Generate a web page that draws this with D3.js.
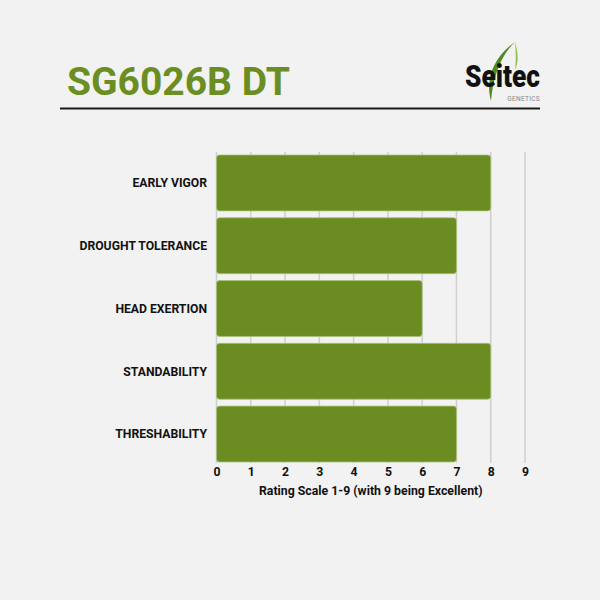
<!DOCTYPE html>
<html>
<head>
<meta charset="utf-8">
<script src="https://cdn.jsdelivr.net/npm/d3@7"></script>
<style>
  html, body { margin: 0; padding: 0; background: #f2f2f2; }
  svg { display: block; font-family: Roboto, "Noto Sans", sans-serif; }
</style>
</head>
<body>
<svg id="chart" width="600" height="600"></svg>
<script>
const categories = ["EARLY VIGOR", "DROUGHT TOLERANCE", "HEAD EXERTION", "STANDABILITY", "THRESHABILITY"];
const values = [8, 7, 6, 8, 7];
const ticks = [0, 1, 2, 3, 4, 5, 6, 7, 8, 9];
const title = "SG6026B DT";
const axisTitle = "Rating Scale 1-9 (with 9 being Excellent)";

const svg = d3.select("#chart");
svg.append("rect").attr("width", 600).attr("height", 600).attr("fill", "#f2f2f2");

// Title
svg.append("text").attr("x", 67).attr("y", 95)
  .attr("font-size", 39).attr("font-weight", 700).attr("fill", "#6b8e23")
  .text(title);

// Rule
svg.append("line").attr("x1", 60).attr("x2", 540).attr("y1", 108.5).attr("y2", 108.5)
  .attr("stroke", "#1a1a1a").attr("stroke-width", 2);

// Logo
const logo = svg.append("g");
logo.append("path")
  .attr("d", "M515,42 C500,56 493,78 491,101 C485,80 493,57 515,42 Z")
  .attr("fill", "#4f8a22");
logo.append("path")
  .attr("d", "M515,42 C519,55 518,64 515,70 C516,62 516,52 515,42 Z")
  .attr("fill", "#8fbf4a");
logo.append("text").attr("x", 465).attr("y", 87)
  .attr("font-size", 32).attr("font-weight", 900).attr("fill", "#111")
  .attr("textLength", 75).attr("lengthAdjust", "spacingAndGlyphs")
  .text("Seitec");
logo.append("text").attr("x", 540).attr("y", 101).attr("text-anchor", "end")
  .attr("font-size", 6.5).attr("fill", "#888").attr("letter-spacing", 0.3)
  .text("GENETICS");

// Chart
const x = d3.scaleLinear().domain([0, 9]).range([216.5, 525]);
const y = d3.scaleBand().domain(categories).range([152.5, 464.5]).paddingInner(0.11).paddingOuter(0.04);

// Gridlines
svg.append("g").selectAll("line").data(ticks).join("line")
  .attr("x1", d => x(d)).attr("x2", d => x(d))
  .attr("y1", 152).attr("y2", 463)
  .attr("stroke", "#cfcfcf").attr("stroke-width", 1.5);

// Bars
svg.append("g").selectAll("rect").data(values).join("rect")
  .attr("x", x(0))
  .attr("y", (d, i) => y(categories[i]))
  .attr("width", d => x(d) - x(0))
  .attr("height", y.bandwidth())
  .attr("rx", 3)
  .attr("fill", "#6a8c21")
  .attr("stroke", "#a9c27a").attr("stroke-width", 0.8);

// Category labels
svg.append("g").selectAll("text").data(categories).join("text")
  .attr("x", 207)
  .attr("y", d => y(d) + y.bandwidth() / 2)
  .attr("dy", "0.35em")
  .attr("text-anchor", "end")
  .attr("font-size", 12.2).attr("font-weight", 700).attr("fill", "#111")
  .text(d => d);

// X axis
const xAxis = d3.axisBottom(x).tickValues(ticks).tickSize(0).tickPadding(0).tickFormat(d3.format("d"));
const ax = svg.append("g").attr("transform", "translate(0,467)").call(xAxis);
ax.select(".domain").remove();
ax.selectAll("text").attr("font-size", 12.2).attr("font-weight", 700).attr("fill", "#111")
  .attr("font-family", "Roboto, sans-serif").attr("dy", "0.71em");

svg.append("text").attr("x", x(4.5)).attr("y", 495)
  .attr("text-anchor", "middle")
  .attr("font-size", 12.3).attr("font-weight", 700).attr("fill", "#111")
  .text(axisTitle);
</script>
</body>
</html>
